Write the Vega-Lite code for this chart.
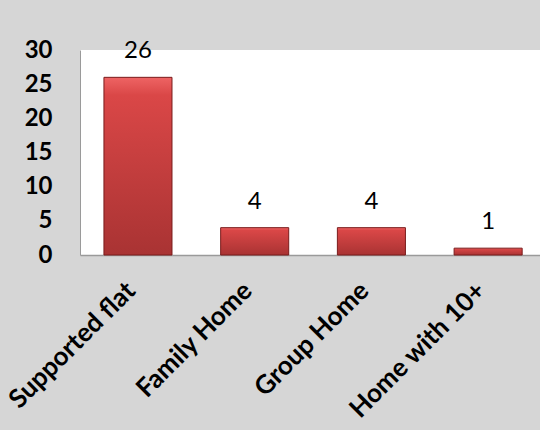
{
  "$schema": "https://vega.github.io/schema/vega-lite/v6.json",
  "autosize": "none",
  "width": 460,
  "height": 205,
  "padding": {"left": 80, "top": 50, "right": 0, "bottom": 175},
  "background": "#d6d6d6",
  "config": {
    "view": {"stroke": null, "fill": "#ffffff"},
    "font": "Lato"
  },
  "data": {
    "values": [
      {"type": "Supported flat", "count": 26},
      {"type": "Family Home", "count": 4},
      {"type": "Group Home", "count": 4},
      {"type": "Home with 10+", "count": 1}
    ]
  },
  "encoding": {
    "x": {
      "field": "type",
      "type": "nominal",
      "sort": null,
      "scale": {"paddingInner": 0.417, "paddingOuter": 0.179, "align": 0.573},
      "axis": {
        "title": null,
        "labelAngle": -45,
        "labelAlign": "right",
        "labelBaseline": "top",
        "labelFont": "Lato",
        "labelFontWeight": "bold",
        "labelFontSize": 26,
        "labelColor": "#000000",
        "labelPadding": 22,
        "labelOffset": -16,
        "ticks": false,
        "domainColor": "#9a9a9a",
        "domainWidth": 1.5
      }
    },
    "y": {
      "field": "count",
      "type": "quantitative",
      "scale": {"domain": [0, 30], "nice": false},
      "axis": {
        "title": null,
        "values": [0, 5, 10, 15, 20, 25, 30],
        "grid": false,
        "ticks": false,
        "labelFont": "Lato",
        "labelFontWeight": "bold",
        "labelFontSize": 24,
        "labelColor": "#000000",
        "labelPadding": 28,
        "domainColor": "#9a9a9a",
        "domainWidth": 1
      }
    }
  },
  "layer": [
    {
      "mark": {
        "type": "bar",
        "stroke": "#7a1c1c",
        "strokeWidth": 1,
        "color": {
          "gradient": "linear",
          "x1": 0, "y1": 0, "x2": 0, "y2": 1,
          "stops": [
            {"offset": 0, "color": "#ee6464"},
            {"offset": 0.1, "color": "#da4747"},
            {"offset": 1, "color": "#a93333"}
          ]
        }
      }
    },
    {
      "mark": {
        "type": "text",
        "baseline": "alphabetic",
        "dy": -19,
        "font": "Lato",
        "fontSize": 24,
        "color": "#000000"
      },
      "encoding": {"text": {"field": "count", "type": "quantitative"}}
    }
  ]
}
